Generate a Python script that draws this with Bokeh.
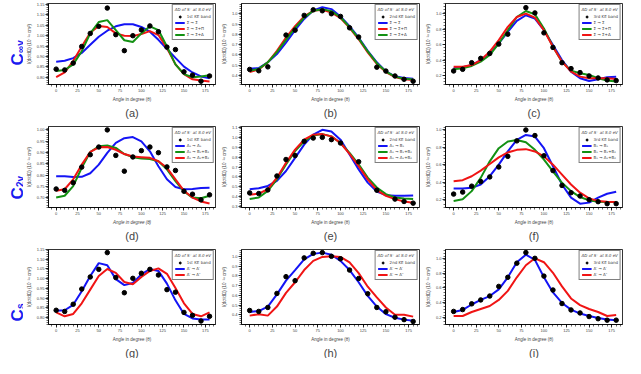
import numpy as np
from bokeh.plotting import figure
from bokeh.layouts import gridplot
from bokeh.models import (Title, Range1d, FixedTicker, Legend, LegendItem,
                          PrintfTickFormatter, Label)
from bokeh.embed import file_html
from bokeh.resources import INLINE

# ---------------- data ----------------
angles = [0, 10, 20, 30, 40, 50, 60, 70, 80, 90, 100, 110, 120, 130, 140, 150, 160, 170, 180]
x_ticks = [0, 25, 50, 75, 100, 125, 150, 175]

row_labels = [("C", "\u221ev"), ("C", "2v"), ("C", "s")]
band_labels = ["1st KE band", "2nd KE band", "3rd KE band"]
legend_title = "AD of S\u207b at 8.0 eV"

# (a) C_inf_v, 1st band
a_points = [0.839, 0.835, 0.868, 0.948, 1.011, 1.045, 1.133, 1.005, 0.928, 1.000, 1.028, 1.047, 1.019, 0.945, 0.933, 0.826, 0.810, 0.781, 0.806]
a_sig_sig = [0.875, 0.879, 0.892, 0.917, 0.956, 0.995, 1.024, 1.045, 1.055, 1.055, 1.042, 1.019, 0.980, 0.936, 0.893, 0.851, 0.823, 0.804, 0.795]
a_sig_pi = [0.800, 0.823, 0.878, 0.948, 1.014, 1.047, 1.042, 1.011, 1.000, 0.998, 1.008, 1.022, 1.003, 0.940, 0.862, 0.815, 0.790, 0.784, 0.779]
a_sig_delta = [0.830, 0.835, 0.862, 0.925, 1.011, 1.066, 1.075, 1.027, 0.978, 0.970, 1.011, 1.045, 1.027, 0.948, 0.862, 0.815, 0.800, 0.803, 0.810]

# (b) C_inf_v, 2nd band
b_points = [0.457, 0.444, 0.482, None, 0.792, 0.840, 0.984, 1.038, 1.029, 1.000, 0.974, 0.863, 0.773, None, 0.479, 0.441, 0.393, 0.361, 0.342]
b_sig_sig = [0.463, 0.470, 0.527, 0.607, 0.719, 0.840, 0.949, 1.032, 1.064, 1.045, 0.974, 0.879, 0.767, 0.639, 0.527, 0.438, 0.390, 0.374, 0.367]
b_sig_pi = [0.431, 0.457, 0.527, 0.639, 0.767, 0.879, 0.974, 1.029, 1.038, 1.013, 0.958, 0.863, 0.751, 0.623, 0.511, 0.431, 0.383, 0.361, 0.355]
b_sig_delta = [0.444, 0.462, 0.527, 0.625, 0.745, 0.862, 0.962, 1.030, 1.045, 1.025, 0.966, 0.870, 0.760, 0.632, 0.518, 0.436, 0.387, 0.366, 0.360]

# (c) C_inf_v, 3rd band
c_points = [0.264, 0.285, 0.370, 0.426, 0.489, 0.609, 0.736, None, 1.077, 1.009, 0.753, 0.566, 0.370, 0.294, 0.243, 0.200, 0.174, 0.149, 0.140]
c_sig_sig = [0.298, 0.311, 0.340, 0.404, 0.489, 0.617, 0.766, 0.906, 0.979, 0.936, 0.787, 0.596, 0.404, 0.255, 0.170, 0.136, 0.157, 0.183, 0.191]
c_sig_pi = [0.285, 0.298, 0.328, 0.383, 0.468, 0.617, 0.787, 0.957, 1.034, 0.991, 0.809, 0.574, 0.383, 0.268, 0.234, 0.213, 0.170, 0.140, 0.128]
c_sig_delta = [0.319, 0.319, 0.340, 0.404, 0.511, 0.660, 0.830, 0.957, 1.000, 0.949, 0.787, 0.574, 0.383, 0.255, 0.191, 0.170, 0.170, 0.170, 0.162]

# (d) C2v, 1st band
d_points = [0.738, 0.732, 0.766, 0.835, 0.890, 0.924, 1.000, 0.887, 0.817, 0.880, 0.908, 0.924, 0.899, 0.836, 0.820, 0.728, 0.715, 0.690, 0.712]
d_a1_a1 = [0.795, 0.794, 0.791, 0.792, 0.808, 0.846, 0.898, 0.942, 0.963, 0.968, 0.949, 0.905, 0.839, 0.781, 0.747, 0.737, 0.738, 0.742, 0.744]
d_a1_b1b2 = [0.700, 0.708, 0.751, 0.832, 0.902, 0.927, 0.931, 0.920, 0.893, 0.879, 0.873, 0.871, 0.861, 0.825, 0.773, 0.727, 0.700, 0.697, 0.708]
d_a1_a1b2 = [0.730, 0.737, 0.781, 0.846, 0.902, 0.923, 0.924, 0.912, 0.893, 0.882, 0.879, 0.876, 0.861, 0.832, 0.781, 0.730, 0.700, 0.683, 0.674]

# (e) C2v, 2nd band
e_points = [0.438, 0.431, 0.468, 0.609, 0.776, 0.816, 0.960, 0.993, 1.000, 0.977, 0.943, None, 0.753, None, 0.465, None, 0.375, 0.351, 0.334]
e_a1_b1 = [0.475, 0.485, 0.508, 0.559, 0.659, 0.793, 0.926, 1.027, 1.077, 1.060, 0.977, 0.826, 0.676, 0.542, 0.452, 0.415, 0.408, 0.408, 0.411]
e_a1_b1b2 = [0.375, 0.391, 0.458, 0.575, 0.726, 0.860, 0.960, 1.020, 1.033, 1.010, 0.943, 0.843, 0.726, 0.592, 0.492, 0.425, 0.391, 0.381, 0.375]
e_a1_a1b2 = [0.418, 0.431, 0.475, 0.592, 0.742, 0.876, 0.977, 1.027, 1.033, 1.010, 0.943, 0.833, 0.709, 0.575, 0.465, 0.408, 0.375, 0.351, 0.338]

# (f) C2v, 3rd band
f_points = [0.264, 0.287, 0.355, 0.408, 0.461, 0.575, 0.697, 0.875, 1.000, 0.936, 0.704, 0.534, 0.363, 0.280, 0.242, 0.200, 0.177, 0.154, 0.154]
f_b1_b1 = [0.329, 0.329, 0.336, 0.374, 0.469, 0.602, 0.754, 0.886, 0.943, 0.924, 0.791, 0.583, 0.374, 0.223, 0.154, 0.166, 0.223, 0.268, 0.291]
f_b1_b1b2 = [0.185, 0.204, 0.298, 0.450, 0.640, 0.791, 0.867, 0.886, 0.860, 0.772, 0.659, 0.526, 0.393, 0.298, 0.230, 0.192, 0.177, 0.173, 0.173]
f_b1_a1b2 = [0.412, 0.424, 0.469, 0.534, 0.609, 0.685, 0.742, 0.772, 0.780, 0.754, 0.697, 0.602, 0.488, 0.374, 0.280, 0.215, 0.185, 0.177, 0.173]

# (g) Cs, 1st band
g_points = [0.838, 0.832, 0.869, 0.947, 1.009, 1.048, 1.134, 1.006, 0.928, 1.002, 1.028, 1.048, 1.019, 0.944, 0.931, 0.827, 0.812, 0.783, 0.807]
g_ap_ap = [0.835, 0.838, 0.866, 0.936, 1.014, 1.080, 1.069, 0.998, 0.967, 0.978, 1.022, 1.050, 1.040, 0.975, 0.889, 0.819, 0.796, 0.791, 0.791]
g_ap_app = [0.827, 0.807, 0.819, 0.874, 0.944, 1.014, 1.050, 1.030, 0.983, 0.972, 1.009, 1.040, 1.053, 1.025, 0.952, 0.874, 0.819, 0.807, 0.827]

# (h) Cs, 2nd band
h_points = [0.444, 0.434, 0.475, 0.619, 0.791, 0.750, 0.984, 1.031, 1.038, 1.000, 0.975, 0.859, 0.772, 0.616, 0.475, 0.431, 0.375, 0.350, 0.331]
h_ap_ap = [0.428, 0.438, 0.484, 0.609, 0.750, 0.859, 0.969, 1.025, 1.038, 1.016, 0.953, 0.859, 0.734, 0.594, 0.484, 0.406, 0.369, 0.350, 0.338]
h_ap_app = [0.391, 0.406, 0.391, 0.484, 0.625, 0.734, 0.859, 0.953, 0.994, 1.000, 0.994, 0.938, 0.828, 0.688, 0.578, 0.475, 0.400, 0.400, 0.381]

# (i) Cs, 3rd band
i_points = [0.278, 0.303, 0.381, 0.434, 0.487, 0.618, 0.742, 0.934, 1.078, 1.000, 0.758, 0.569, 0.385, 0.298, 0.257, 0.208, 0.179, 0.159, 0.159]
i_ap_ap = [0.270, 0.298, 0.372, 0.434, 0.487, 0.577, 0.742, 0.947, 1.049, 0.979, 0.742, 0.536, 0.393, 0.303, 0.249, 0.216, 0.188, 0.167, 0.159]
i_ap_app = [0.216, 0.216, 0.270, 0.311, 0.352, 0.434, 0.557, 0.742, 0.906, 1.000, 0.947, 0.803, 0.618, 0.454, 0.364, 0.311, 0.270, 0.216, 0.229]

# y tick labels per panel style
yt_a = [0.80, 0.85, 0.90, 0.95, 1.00, 1.05, 1.10, 1.15]
yt_b = [0.4, 0.5, 0.6, 0.7, 0.8, 0.9, 1.0]
yt_c = [0.2, 0.4, 0.6, 0.8, 1.0]
yt_d = [0.70, 0.75, 0.80, 0.85, 0.90, 0.95, 1.00]
yt_e = [0.3, 0.4, 0.5, 0.6, 0.7, 0.8, 0.9, 1.0, 1.1]

BLUE = "#1414f5"
RED = "#f01414"
GREEN = "#139113"
LABEL_BLUE = "#1a1af0"

SIG = "\u03a3"
ARW = " \u2192 "

# ---------------- layout ----------------
LABEL_W = 23
COL_W = [195, 204, 203]
COL_LB = [17, 22, 21]
ROW_H = [123, 123, 112]
ROW_TB = [3, 3, 3]
ROW_BB = [39, 39, 28]
FONT = "Liberation Sans"


def style_axis(ax):
    ax.axis_line_color = "black"
    ax.axis_line_width = 0.8
    ax.major_tick_line_color = "black"
    ax.major_tick_line_width = 0.8
    ax.major_tick_out = 3
    ax.major_tick_in = 0
    ax.minor_tick_line_color = "black"
    ax.minor_tick_line_width = 0.6
    ax.minor_tick_out = 2
    ax.minor_tick_in = 0
    ax.major_label_text_font = FONT
    ax.axis_label_text_font = FONT
    ax.axis_label_text_font_style = "normal"
    ax.major_label_text_font_size = "4px"
    ax.major_label_standoff = 1
    ax.axis_label_text_font_size = "4.5px"
    ax.axis_label_standoff = 2


def make_panel(row, col, yrange, yticks, ystep_minor, yfmt, points, series, band, letter, italic=False):
    p = figure(width=COL_W[col], height=ROW_H[row],
               x_range=Range1d(-9, 187), y_range=Range1d(*yrange),
               output_backend="svg", toolbar_location=None,
               min_border_left=COL_LB[col], min_border_right=3,
               min_border_top=ROW_TB[row], min_border_bottom=ROW_BB[row])
    p.xgrid.visible = False
    p.ygrid.visible = False
    p.outline_line_color = "black"
    p.outline_line_width = 0.8
    p.background_fill_color = "white"
    p.border_fill_color = "white"

    xminor = list(range(-5, 190, 5))
    yminor = [float(v) for v in np.round(np.arange(yrange[0] - ystep_minor, yrange[1] + ystep_minor, ystep_minor), 4)]
    p.xaxis[0].ticker = FixedTicker(ticks=x_ticks, minor_ticks=xminor)
    p.yaxis[0].ticker = FixedTicker(ticks=yticks, minor_ticks=yminor)
    p.yaxis[0].formatter = PrintfTickFormatter(format=yfmt)
    p.xaxis[0].axis_label = "Angle in degree (\u03b8)"
    p.yaxis[0].axis_label = "I(d\u03c3/d\u03a9) (10\u207b\u00b9\u2078 cm\u00b2)"
    style_axis(p.xaxis[0])
    style_axis(p.yaxis[0])
    if italic:
        p.xaxis[0].axis_label_text_font_style = "italic"

    line_items = []
    for lab, color, vals in series:
        r = p.line(angles, vals, line_color=color, line_width=2)
        line_items.append(LegendItem(label=lab, renderers=[r]))
    pts = np.array(points, dtype=float)
    sc = p.scatter(angles, pts, size=4.5, marker="circle", fill_color="black", line_color="black")
    items = [LegendItem(label=band, renderers=[sc])] + line_items

    leg = Legend(items=items, location="top_right", title=legend_title,
                 label_text_font_size="4px", title_text_font_size="4px",
                 label_text_font="DejaVu Sans", title_text_font="DejaVu Sans",
                 glyph_width=10, glyph_height=5, label_height=5, label_standoff=2,
                 spacing=1, padding=2, margin=1, title_standoff=2,
                 border_line_color="black", border_line_width=0.6,
                 background_fill_alpha=1.0)
    p.add_layout(leg)

    t = Title(text="(" + letter + ")", align="center", text_font_size="11px",
              text_font_style="normal", text_font=FONT, standoff=0, offset=0)
    p.add_layout(t, "below")
    return p


def make_label(row):
    H = ROW_H[row]
    p = figure(frame_width=LABEL_W, frame_height=H, title=None,
               x_range=Range1d(0, LABEL_W), y_range=Range1d(0, H),
               output_backend="svg", toolbar_location=None,
               x_axis_type=None, y_axis_type=None,
               min_border=0, min_border_left=0, min_border_right=0,
               min_border_top=0, min_border_bottom=0)
    p.xgrid.visible = False
    p.ygrid.visible = False
    p.outline_line_color = None
    main, sub = row_labels[row]
    # start of the rotated label, measured from the bottom of the row
    ystarts = [61, 50, 40]
    y0 = ystarts[row]
    p.add_layout(Label(x=16.5, y=y0, text=main, angle=np.pi / 2, text_color=LABEL_BLUE,
                       text_font=FONT, text_font_size="17px", text_font_style="bold",
                       text_align="left", text_baseline="alphabetic"))
    p.add_layout(Label(x=19.5, y=y0 + 12.5, text=sub, angle=np.pi / 2, text_color=LABEL_BLUE,
                       text_font=FONT, text_font_size="10px", text_font_style="bold",
                       text_align="left", text_baseline="alphabetic"))
    return p


pa = make_panel(0, 0, (0.765, 1.155), yt_a, 0.01, "%.2f", a_points,
                [(SIG + ARW + SIG, BLUE, a_sig_sig), (SIG + ARW + SIG + "+\u03a0", RED, a_sig_pi),
                 (SIG + ARW + SIG + "+\u0394", GREEN, a_sig_delta)], band_labels[0], "a")
pb = make_panel(0, 1, (0.31, 1.10), yt_b, 0.02, "%.1f", b_points,
                [(SIG + ARW + SIG, BLUE, b_sig_sig), (SIG + ARW + SIG + "+\u03a0", RED, b_sig_pi),
                 (SIG + ARW + SIG + "+\u0394", GREEN, b_sig_delta)], band_labels[1], "b")
pc = make_panel(0, 2, (0.09, 1.13), yt_c, 0.04, "%.1f", c_points,
                [(SIG + ARW + SIG, BLUE, c_sig_sig), (SIG + ARW + SIG + "+\u03a0", GREEN, c_sig_pi),
                 (SIG + ARW + SIG + "+\u0394", RED, c_sig_delta)], band_labels[2], "c")

pd_ = make_panel(1, 0, (0.656, 1.015), yt_d, 0.01, "%.2f", d_points,
                 [("A\u2081" + ARW + "A\u2081", BLUE, d_a1_a1), ("A\u2081" + ARW + "B\u2081+B\u2082", GREEN, d_a1_b1b2),
                  ("A\u2081" + ARW + "A\u2081+B\u2082", RED, d_a1_a1b2)], band_labels[0], "d", italic=True)
pe = make_panel(1, 1, (0.29, 1.11), yt_e, 0.02, "%.1f", e_points,
                [("A\u2081" + ARW + "B\u2081", BLUE, e_a1_b1), ("A\u2081" + ARW + "B\u2081+B\u2082", GREEN, e_a1_b1b2),
                 ("A\u2081" + ARW + "A\u2081+B\u2082", RED, e_a1_a1b2)], band_labels[1], "e")
pf = make_panel(1, 2, (0.11, 1.04), yt_c, 0.04, "%.1f", f_points,
                [("B\u2081" + ARW + "B\u2081", BLUE, f_b1_b1), ("B\u2081" + ARW + "B\u2081+B\u2082", GREEN, f_b1_b1b2),
                 ("B\u2081" + ARW + "A\u2081+B\u2082", RED, f_b1_a1b2)], band_labels[2], "f")

pg = make_panel(2, 0, (0.765, 1.15), yt_a, 0.01, "%.2f", g_points,
                [("A\u2032" + ARW + "A\u2032", BLUE, g_ap_ap), ("A\u2032" + ARW + "A\u2033", RED, g_ap_app)],
                band_labels[0], "g")
ph = make_panel(2, 1, (0.30, 1.07), yt_b, 0.02, "%.1f", h_points,
                [("A\u2032" + ARW + "A\u2032", BLUE, h_ap_ap), ("A\u2032" + ARW + "A\u2033", RED, h_ap_app)],
                band_labels[1], "h")
pi_ = make_panel(2, 2, (0.10, 1.12), yt_c, 0.04, "%.1f", i_points,
                 [("A\u2032" + ARW + "A\u2032", BLUE, i_ap_ap), ("A\u2032" + ARW + "A\u2033", RED, i_ap_app)],
                 band_labels[2], "i")

grid = gridplot([[make_label(0), pa, pb, pc],
                 [make_label(1), pd_, pe, pf],
                 [make_label(2), pg, ph, pi_]], toolbar_location=None)

open("out.html", "w").write(file_html(grid, INLINE))
